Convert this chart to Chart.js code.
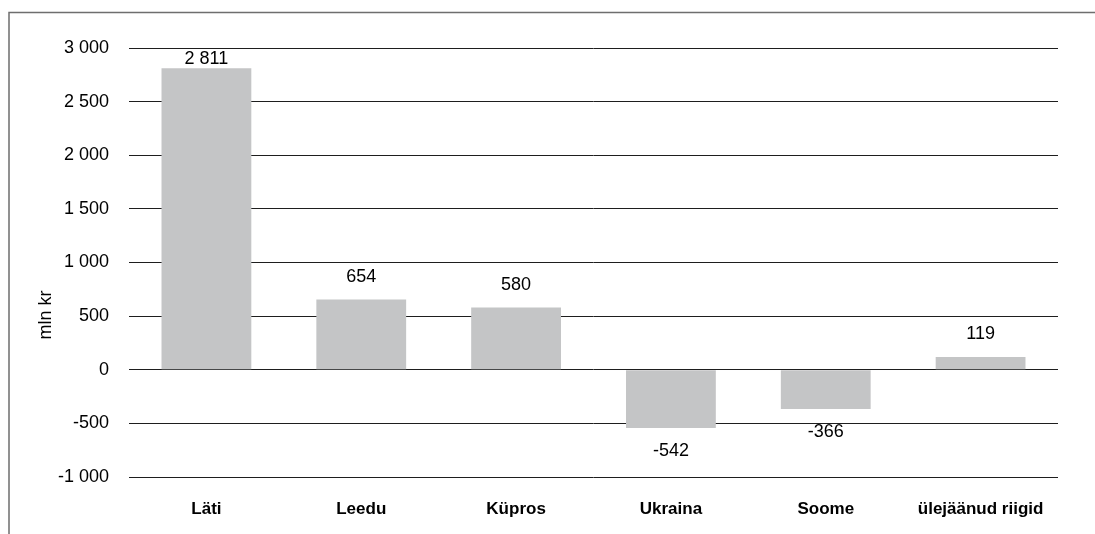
<!DOCTYPE html>
<html>
<head>
<meta charset="utf-8">
<script src="https://cdn.jsdelivr.net/npm/chart.js@4"></script>
<style>
  html, body { margin: 0; padding: 0; background: #fff; }
  #wrap { width: 1095px; height: 534px; position: relative; }
</style>
</head>
<body>
<div id="wrap"><canvas id="chart" width="1095" height="534"></canvas></div>
<script>
// riigid ja saldo (mln kr)
const categories = ['Läti', 'Leedu', 'Küpros', 'Ukraina', 'Soome', 'ülejäänud riigid'];
const values = [2811, 654, 580, -542, -366, 119];
const yTicks = [-1000, -500, 0, 500, 1000, 1500, 2000, 2500, 3000];
const axisTitle = 'mln kr';

const FONT = '"Liberation Sans", Arial, Helvetica, sans-serif';

// tuhandete eraldaja tühikuga: 2811 -> "2 811"
function fmt(v) {
    const s = String(Math.abs(v)).replace(/\B(?=(\d{3})+(?!\d))/g, ' ');
    return (v < 0 ? '-' : '') + s;
}

// raam vasakul ja üleval + y-telje pealkiri
const framePlugin = {
    id: 'frame',
    beforeDraw(chart) {
        const ctx = chart.ctx;
        ctx.save();
        ctx.strokeStyle = '#6e6e6e';
        ctx.lineWidth = 1.5;
        ctx.beginPath();
        ctx.moveTo(9, 534);
        ctx.lineTo(9, 12.5);
        ctx.lineTo(1095, 12.5);
        ctx.stroke();
        ctx.restore();
    },
    afterDraw(chart) {
        const ctx = chart.ctx;
        ctx.save();
        ctx.translate(46, 315);
        ctx.rotate(-Math.PI / 2);
        ctx.font = '18px ' + FONT;
        ctx.fillStyle = '#000';
        ctx.textAlign = 'center';
        ctx.textBaseline = 'middle';
        ctx.fillText(axisTitle, 0, 0);
        ctx.restore();
    }
};

// väärtused tulpade kohal / all
const labelPlugin = {
    id: 'barLabels',
    afterDatasetsDraw(chart) {
        const ctx = chart.ctx;
        const area = chart.chartArea;
        const meta = chart.getDatasetMeta(0);
        ctx.save();
        ctx.font = '18px ' + FONT;
        ctx.fillStyle = '#000';
        ctx.textAlign = 'center';
        ctx.textBaseline = 'middle';
        meta.data.forEach((bar, i) => {
            const v = values[i];
            let y;
            if (v >= 0) {
                y = Math.max(bar.y - 23, area.top + 11);
            } else {
                y = bar.y + 23;
            }
            ctx.fillText(fmt(v), bar.x, y);
        });
        ctx.restore();
    }
};

new Chart(document.getElementById('chart'), {
    type: 'bar',
    data: {
        labels: categories,
        datasets: [{
            data: values,
            backgroundColor: '#c4c5c6',
            borderWidth: 0,
            barPercentage: 0.58,
            categoryPercentage: 1.0
        }]
    },
    options: {
        responsive: false,
        animation: false,
        events: [],
        layout: { padding: { top: 48, right: 37, left: 0, bottom: 0 } },
        plugins: {
            legend: { display: false },
            tooltip: { enabled: false }
        },
        scales: {
            x: {
                grid: { display: false, drawTicks: false },
                border: { display: false },
                ticks: {
                    padding: 22,
                    color: '#000',
                    font: { family: FONT, size: 17, weight: 'bold' },
                    maxRotation: 0
                },
                afterFit(scale) { scale.height = 57; }
            },
            y: {
                min: -1000,
                max: 3000,
                afterBuildTicks(scale) {
                    scale.ticks = yTicks.map(v => ({ value: v }));
                },
                grid: { color: '#1e1e1e', lineWidth: 1, drawTicks: false },
                border: { display: false },
                ticks: {
                    padding: 20,
                    color: '#000',
                    font: { family: FONT, size: 18 },
                    callback: v => fmt(v)
                },
                afterFit(scale) { scale.width = 129; }
            }
        }
    },
    plugins: [framePlugin, labelPlugin]
});
</script>
</body>
</html>
